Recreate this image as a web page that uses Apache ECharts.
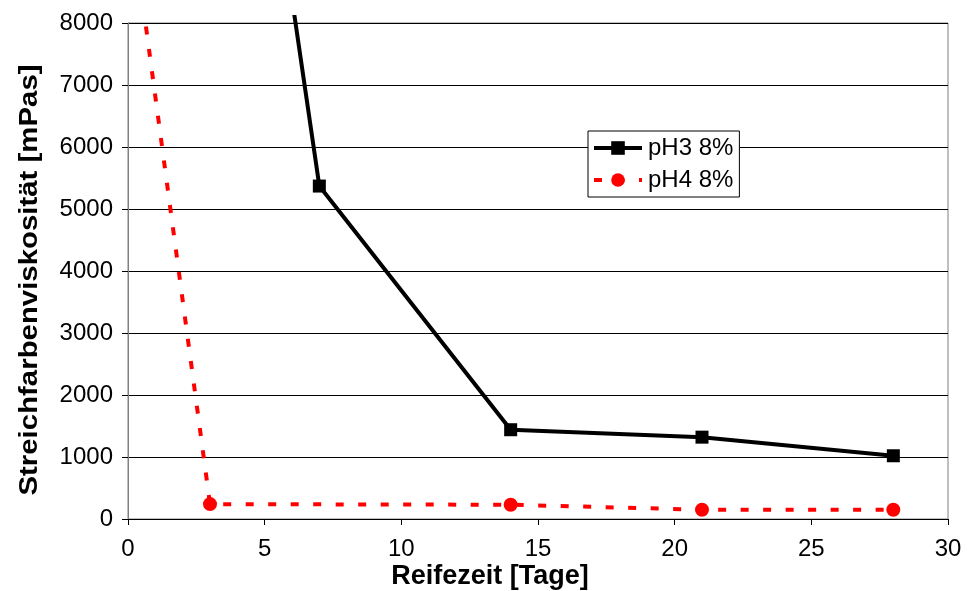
<!DOCTYPE html>
<html>
<head>
<meta charset="utf-8">
<script src="https://cdn.jsdelivr.net/npm/echarts@6/dist/echarts.min.js"></script>
<style>
  html, body { margin: 0; padding: 0; background: #fff; }
  #chart { width: 970px; height: 591px; }
</style>
</head>
<body>
<div id="chart"></div>
<script>
// Ripening time in days and coating viscosity in mPas
const daysPH3 = [0, 7, 14, 21, 28];
const viscPH3 = [26500, 5370, 1440, 1320, 1020];
const daysPH4 = [0, 3, 14, 21, 28];
const viscPH4 = [10100, 240, 230, 150, 150];
const seriesNames = ['pH3 8%', 'pH4 8%'];
const xTitle = 'Reifezeit [Tage]';
const yTitle = 'Streichfarbenviskosität [mPas]';

const FONT = '"Liberation Sans", Arial, sans-serif';
const PLOT = { left: 128, right: 22, top: 23, bottom: 72 };
// lines may run a few pixels past the top frame before being cut
const LINE_TOP = 17;
const yMax = 8000;
const yMaxLines = yMax * (591 - PLOT.bottom - LINE_TOP) / (591 - PLOT.bottom - PLOT.top);

const pairs = (xs, ys) => xs.map((x, i) => [x, ys[i]]);

const chart = echarts.init(document.getElementById('chart'), null, { renderer: 'canvas' });
chart.setOption({
  animation: false,
  backgroundColor: '#fff',
  textStyle: { fontFamily: FONT },
  grid: [
    { left: PLOT.left, right: PLOT.right, top: PLOT.top, bottom: PLOT.bottom,
      show: true, borderColor: '#808080', borderWidth: 1, backgroundColor: 'transparent' },
    { left: PLOT.left, right: PLOT.right, top: LINE_TOP, bottom: PLOT.bottom, show: false }
  ],
  xAxis: [
    { type: 'value', gridIndex: 0, min: 0, max: 30, interval: 5,
      axisLine: { show: true, onZero: false, lineStyle: { color: '#000', width: 1 } },
      axisTick: { show: true, length: 6, lineStyle: { color: '#000' } },
      axisLabel: { margin: 18, fontSize: 24, color: '#000', fontFamily: FONT },
      splitLine: { show: false } },
    { type: 'value', gridIndex: 1, min: 0, max: 30, show: false }
  ],
  yAxis: [
    { type: 'value', gridIndex: 0, min: 0, max: yMax, interval: 1000,
      axisLine: { show: true, lineStyle: { color: '#808080', width: 1 } },
      axisTick: { show: true, length: 6, lineStyle: { color: '#000' } },
      axisLabel: { margin: 15, fontSize: 24, color: '#000', fontFamily: FONT,
                   formatter: v => String(v) },
      splitLine: { show: true, lineStyle: { color: '#000', width: 1 } } },
    { type: 'value', gridIndex: 1, min: 0, max: yMaxLines, show: false }
  ],
  legend: {
    orient: 'vertical',
    left: 588, top: 131,
    data: seriesNames,
    backgroundColor: '#fff',
    borderColor: '#000', borderWidth: 1,
    padding: [5, 6, 5, 4],
    itemGap: 8,
    itemWidth: 48, itemHeight: 17,
    lineStyle: { width: 4 },
    textStyle: { fontSize: 24, color: '#000', fontFamily: FONT, padding: [0, 0, 0, 1] }
  },
  series: [
    { name: seriesNames[0], type: 'line', xAxisIndex: 1, yAxisIndex: 1,
      data: pairs(daysPH3, viscPH3), clip: true,
      symbol: 'rect', symbolSize: 13,
      lineStyle: { color: '#000', width: 4 },
      itemStyle: { color: '#000' }, z: 3 },
    { name: seriesNames[1], type: 'line', xAxisIndex: 1, yAxisIndex: 1,
      data: pairs(daysPH4, viscPH4), clip: true,
      symbol: 'circle', symbolSize: 14,
      lineStyle: { color: '#ff0000', width: 4, type: [8, 14.5], cap: 'butt' },
      itemStyle: { color: '#ff0000' }, z: 3 }
  ],
  graphic: [
    { type: 'text', x: 490, y: 577,
      style: { text: xTitle, font: 'bold 27px ' + FONT, fill: '#000',
               align: 'center', verticalAlign: 'middle' } },
    { type: 'text', x: 30, y: 280, rotation: Math.PI / 2, scaleX: 1.13, scaleY: 1.02,
      style: { text: yTitle, font: 'bold 26px ' + FONT, fill: '#000',
               align: 'center', verticalAlign: 'middle' } }
  ]
});
</script>
</body>
</html>
